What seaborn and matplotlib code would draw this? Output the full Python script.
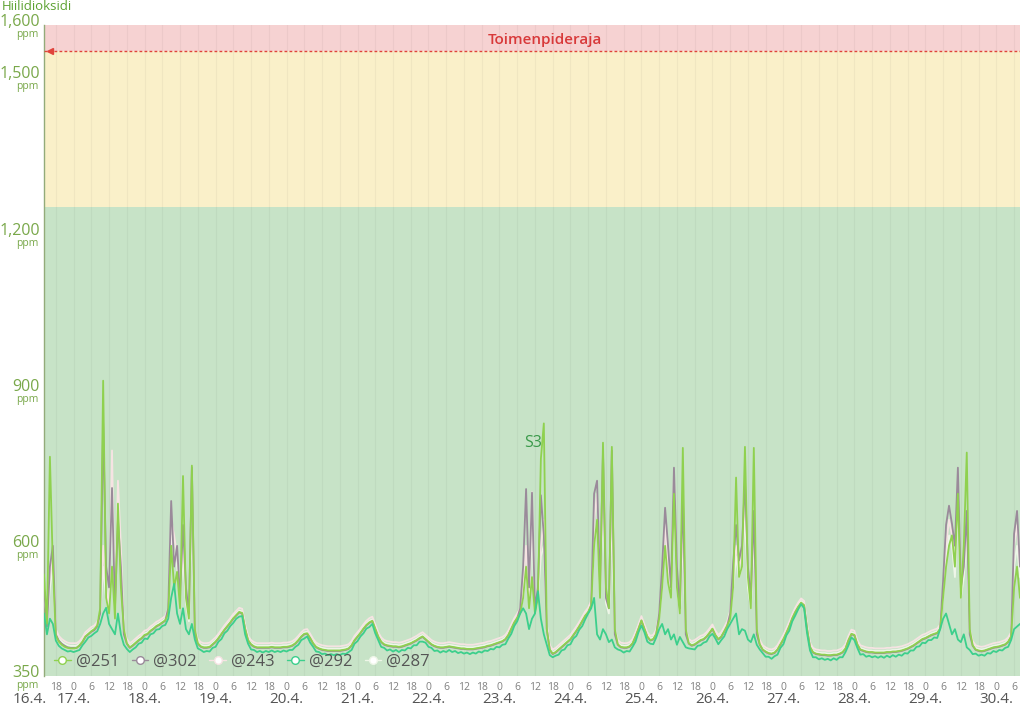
import numpy as np
import pandas as pd
import matplotlib
matplotlib.use("Agg")
import matplotlib.pyplot as plt
import matplotlib.transforms as mtransforms
from matplotlib.lines import Line2D
import seaborn as sns

# ---------------- data (hourly, starting 16.4. 14:00) ----------------
start_hour = 14
sensors = ["@251", "@302", "@243", "@292", "@287"]

s251 = [
    545, 450, 771, 560, 428, 416, 410, 406, 404, 403,
    403, 404, 409, 416, 426, 431, 436, 440, 447, 480, 917, 500, 470, 560, 460, 681, 520, 440, 413, 405, 409, 414, 419, 423,
    429, 431, 437, 441, 446, 449, 453, 457, 470, 600, 520, 550, 480, 734, 500, 460, 754, 440, 413, 407, 405, 405, 406, 411,
    416, 423, 431, 439, 446, 453, 461, 467, 473, 471, 441, 419, 411, 407, 405, 405, 405, 405, 405, 406, 405, 405, 405, 406,
    406, 407, 409, 413, 419, 426, 431, 432, 423, 413, 406, 403, 401, 400, 399, 399, 399, 399, 399, 400, 401, 403, 409, 419,
    426, 433, 441, 448, 453, 456, 441, 426, 416, 411, 409, 408, 407, 407, 406, 407, 409, 411, 413, 416, 419, 423, 426, 421,
    416, 411, 408, 406, 405, 405, 406, 407, 406, 405, 404, 403, 403, 402, 402, 402, 403, 404, 405, 406, 408, 409, 411, 413,
    415, 417, 421, 429, 441, 453, 462, 470, 500, 560, 480, 540, 470, 500, 767, 835, 440, 401, 393, 396, 401, 406, 411, 416,
    421, 429, 437, 446, 456, 466, 473, 486, 600, 650, 500, 798, 520, 480, 790, 440, 411, 406, 405, 405, 407, 413, 426, 441,
    457, 441, 426, 419, 421, 431, 460, 520, 600, 530, 500, 700, 520, 470, 788, 440, 413, 409, 411, 415, 419, 421, 426, 433,
    441, 429, 421, 426, 436, 447, 460, 520, 731, 540, 560, 790, 540, 480, 788, 440, 411, 401, 397, 394, 393, 395, 401, 411,
    421, 433, 446, 461, 473, 483, 491, 486, 441, 406, 396, 393, 392, 391, 391, 390, 390, 391, 391, 393, 396, 403, 419, 431,
    429, 411, 401, 399, 397, 396, 396, 395, 395, 395, 395, 396, 396, 397, 397, 398, 399, 401, 403, 406, 409, 413, 417, 421,
    423, 426, 429, 431, 433, 441, 500, 560, 600, 620, 560, 700, 500, 600, 779, 440, 409, 401, 399, 398, 399, 401, 403, 405,
    406, 407, 409, 411, 416, 426, 520, 560, 500,
]

s302 = [
    520, 445, 560, 600, 430, 418, 412, 408, 405, 404,
    404, 404, 408, 415, 425, 430, 435, 438, 445, 470, 835, 560, 520, 711, 480, 650, 560, 430, 412, 404, 408, 413, 418, 422,
    428, 430, 436, 440, 445, 448, 452, 456, 480, 686, 560, 600, 500, 640, 520, 470, 750, 430, 412, 406, 404, 404, 405, 410,
    415, 422, 430, 438, 445, 452, 460, 466, 472, 470, 440, 418, 410, 406, 404, 404, 404, 404, 404, 405, 404, 404, 404, 405,
    405, 406, 408, 412, 418, 425, 430, 431, 422, 412, 405, 402, 400, 399, 398, 398, 398, 398, 398, 399, 400, 402, 408, 418,
    425, 432, 440, 447, 452, 455, 440, 425, 415, 410, 408, 407, 406, 406, 405, 406, 408, 410, 412, 415, 418, 422, 425, 420,
    415, 410, 407, 405, 404, 404, 405, 406, 405, 404, 403, 402, 402, 401, 401, 401, 402, 403, 404, 405, 407, 408, 410, 412,
    414, 416, 420, 428, 440, 452, 461, 480, 560, 709, 520, 702, 480, 520, 697, 620, 440, 400, 392, 395, 400, 405, 410, 415,
    420, 428, 436, 445, 455, 465, 472, 485, 700, 725, 520, 780, 500, 480, 783, 430, 410, 405, 404, 404, 406, 412, 425, 440,
    456, 440, 425, 418, 420, 430, 470, 560, 673, 600, 520, 750, 560, 480, 700, 430, 412, 408, 410, 414, 418, 420, 425, 432,
    440, 428, 420, 425, 435, 446, 470, 565, 640, 572, 600, 725, 560, 500, 667, 430, 410, 400, 396, 393, 392, 394, 400, 410,
    420, 432, 445, 460, 472, 482, 490, 485, 440, 405, 395, 392, 391, 390, 390, 389, 389, 390, 390, 392, 395, 402, 418, 430,
    428, 410, 400, 398, 396, 395, 395, 394, 394, 394, 394, 395, 395, 396, 396, 397, 398, 400, 402, 405, 408, 412, 416, 420,
    422, 425, 428, 430, 432, 440, 533, 640, 677, 642, 600, 750, 520, 560, 667, 430, 408, 400, 398, 397, 398, 400, 402, 404,
    405, 406, 408, 410, 415, 425, 623, 667, 560,
]

s243 = [
    530, 455, 540, 580, 440, 427, 421, 417, 414, 413,
    413, 413, 417, 424, 434, 439, 444, 447, 454, 470, 600, 520, 480, 783, 470, 725, 600, 440, 421, 413, 417, 422, 427, 431,
    437, 439, 445, 449, 454, 457, 461, 465, 480, 650, 620, 580, 520, 600, 500, 460, 720, 440, 421, 415, 413, 413, 414, 419,
    424, 431, 439, 447, 454, 461, 469, 475, 481, 479, 449, 427, 419, 415, 413, 413, 413, 413, 413, 414, 413, 413, 413, 414,
    414, 415, 417, 421, 427, 434, 439, 440, 431, 421, 414, 411, 409, 408, 407, 407, 407, 407, 407, 408, 409, 411, 417, 427,
    434, 441, 449, 456, 461, 464, 449, 434, 424, 419, 417, 416, 415, 415, 414, 415, 417, 419, 421, 424, 427, 431, 434, 429,
    424, 419, 416, 414, 413, 413, 414, 415, 414, 413, 412, 411, 411, 410, 410, 410, 411, 412, 413, 414, 416, 417, 419, 421,
    423, 425, 429, 437, 449, 461, 470, 480, 520, 600, 500, 703, 480, 520, 600, 650, 450, 409, 401, 404, 409, 414, 419, 424,
    429, 437, 445, 454, 464, 474, 481, 494, 650, 700, 520, 760, 500, 480, 700, 440, 419, 414, 413, 413, 415, 421, 434, 449,
    465, 449, 434, 427, 429, 439, 470, 540, 640, 560, 520, 740, 540, 480, 650, 440, 421, 417, 419, 423, 427, 429, 434, 441,
    449, 437, 429, 434, 444, 455, 475, 540, 600, 560, 580, 700, 540, 490, 650, 440, 419, 409, 405, 402, 401, 403, 409, 419,
    429, 441, 454, 469, 481, 491, 499, 494, 449, 414, 404, 401, 400, 399, 399, 398, 398, 399, 399, 401, 404, 411, 427, 439,
    437, 419, 409, 407, 405, 404, 404, 403, 403, 403, 403, 404, 404, 405, 405, 406, 407, 409, 411, 414, 417, 421, 425, 429,
    431, 434, 437, 439, 441, 449, 520, 600, 650, 620, 560, 720, 520, 560, 650, 440, 417, 409, 407, 406, 407, 409, 411, 413,
    414, 415, 417, 419, 424, 434, 600, 640, 560,
]

s292 = [
    470, 430, 460, 450, 418, 408, 403, 400, 397, 398,
    396, 398, 400, 409, 416, 424, 427, 432, 436, 450, 470, 481, 450, 440, 430, 470, 430, 410, 402, 396, 401, 405, 412, 414,
    422, 421, 430, 432, 439, 440, 446, 448, 460, 500, 527, 470, 450, 480, 440, 430, 450, 420, 403, 400, 396, 398, 397, 404,
    406, 416, 421, 432, 437, 446, 452, 460, 464, 465, 430, 412, 401, 400, 396, 398, 395, 398, 396, 399, 396, 398, 396, 399,
    397, 400, 400, 406, 410, 419, 422, 426, 414, 406, 397, 396, 392, 393, 390, 392, 390, 392, 390, 393, 392, 396, 400, 412,
    417, 426, 432, 441, 444, 450, 432, 419, 406, 404, 399, 401, 397, 400, 396, 400, 399, 404, 403, 409, 409, 416, 416, 414,
    406, 404, 398, 399, 395, 398, 396, 400, 396, 398, 394, 396, 393, 395, 392, 395, 393, 397, 395, 399, 398, 402, 401, 406,
    405, 410, 411, 422, 431, 446, 455, 470, 480, 470, 440, 460, 470, 513, 460, 430, 410, 390, 386, 389, 391, 399, 401, 409,
    411, 422, 427, 439, 446, 459, 470, 480, 500, 430, 420, 440, 430, 415, 420, 405, 401, 399, 395, 398, 397, 406, 416, 434,
    447, 434, 416, 412, 411, 424, 440, 450, 430, 440, 420, 430, 410, 425, 415, 405, 403, 402, 401, 408, 409, 414, 416, 426,
    431, 422, 411, 419, 426, 440, 450, 460, 470, 430, 440, 437, 420, 415, 430, 410, 401, 394, 387, 387, 383, 388, 391, 404,
    411, 428, 437, 455, 466, 478, 488, 480, 432, 399, 386, 386, 382, 384, 381, 383, 380, 384, 381, 386, 386, 396, 409, 424,
    419, 404, 391, 392, 387, 389, 386, 388, 385, 388, 385, 389, 386, 390, 387, 391, 389, 394, 393, 399, 399, 406, 407, 414,
    413, 419, 419, 424, 423, 440, 460, 470, 450, 430, 440, 420, 415, 430, 405, 400, 392, 393, 389, 391, 389, 394, 393, 398,
    396, 400, 399, 404, 406, 419, 440, 445, 450,
]

s287 = [
    525, 450, 520, 560, 435, 422, 416, 412, 409, 408,
    408, 408, 412, 419, 429, 434, 439, 442, 449, 465, 560, 500, 470, 700, 460, 690, 560, 435, 416, 408, 412, 417, 422, 426,
    432, 434, 440, 444, 449, 452, 456, 460, 475, 620, 580, 560, 500, 580, 490, 455, 680, 435, 416, 410, 408, 408, 409, 414,
    419, 426, 434, 442, 449, 456, 464, 470, 476, 474, 444, 422, 414, 410, 408, 408, 408, 408, 408, 409, 408, 408, 408, 409,
    409, 410, 412, 416, 422, 429, 434, 435, 426, 416, 409, 406, 404, 403, 402, 402, 402, 402, 402, 403, 404, 406, 412, 422,
    429, 436, 444, 451, 456, 459, 444, 429, 419, 414, 412, 411, 410, 410, 409, 410, 412, 414, 416, 419, 422, 426, 429, 424,
    419, 414, 411, 409, 408, 408, 409, 410, 409, 408, 407, 406, 406, 405, 405, 405, 406, 407, 408, 409, 411, 412, 414, 416,
    418, 420, 424, 432, 444, 456, 465, 475, 500, 560, 490, 640, 470, 500, 580, 600, 445, 404, 396, 399, 404, 409, 414, 419,
    424, 432, 440, 449, 459, 469, 476, 489, 600, 650, 510, 700, 490, 470, 660, 435, 414, 409, 408, 408, 410, 416, 429, 444,
    460, 444, 429, 422, 424, 434, 465, 520, 600, 540, 500, 680, 520, 470, 620, 435, 416, 412, 414, 418, 422, 424, 429, 436,
    444, 432, 424, 429, 439, 450, 470, 520, 580, 540, 560, 660, 520, 480, 620, 435, 414, 404, 400, 397, 396, 398, 404, 414,
    424, 436, 449, 464, 476, 486, 494, 489, 444, 409, 399, 396, 395, 394, 394, 393, 393, 394, 394, 396, 399, 406, 422, 434,
    432, 414, 404, 402, 400, 399, 399, 398, 398, 398, 398, 399, 399, 400, 400, 401, 402, 404, 406, 409, 412, 416, 420, 424,
    426, 429, 432, 434, 436, 444, 500, 580, 620, 600, 540, 680, 500, 540, 620, 435, 412, 404, 402, 401, 402, 404, 406, 408,
    409, 410, 412, 414, 419, 429, 560, 600, 540,
]

series = {"@251": s251, "@302": s302, "@243": s243, "@292": s292, "@287": s287}
for k, v in series.items():
    assert len(v) == 331, (k, len(v))

day_labels = ["17.4.", "18.4.", "19.4.", "20.4.", "21.4.", "22.4.", "23.4.",
              "24.4.", "25.4.", "26.4.", "27.4.", "28.4.", "29.4.", "30.4."]
y_ticks = [350, 600, 900, 1200, 1500, 1600]
y_tick_labels = ["350", "600", "900", "1,200", "1,500", "1,600"]
limit_value = 1550
green_max = 1250

colors = {"@251": "#8fd14f", "@302": "#9a8a9a", "@243": "#f6e3e3",
          "@292": "#3ccf8c", "@287": "#eef6e8"}

hours = np.arange(331)
df = pd.concat([pd.DataFrame({"t": hours, "ppm": v, "sensor": k}) for k, v in series.items()],
               ignore_index=True)

# ---------------- figure ----------------
sns.set_theme(style="white")
plt.rcParams["font.family"] = ["Open Sans", "DejaVu Sans"]

fig = plt.figure(figsize=(10.24, 7.09), dpi=100)
ax = fig.add_axes([44 / 1024, 1 - 676 / 709, 976 / 1024, 651 / 709])
ax.set_xlim(0, 330)
ax.set_ylim(350, 1600)

ax.axhspan(350, green_max, color="#c7e3c7", zorder=0, lw=0)
ax.axhspan(green_max, limit_value, color="#faf0c9", zorder=0, lw=0)
ax.axhspan(limit_value, 1600, color="#f6d2d2", zorder=0, lw=0)

for h in range(4, 331, 6):
    ax.axvline(h, color="#000000", alpha=0.04, lw=0.9, zorder=0.5)

draw_order = ["@287", "@243", "@302", "@251", "@292"]
for name in draw_order:
    sns.lineplot(data=df[df.sensor == name], x="t", y="ppm", color=colors[name],
                 lw=1.3, ax=ax, estimator=None, sort=False, legend=False, zorder=3)

# limit line
ax.axhline(limit_value, color="#e0443c", ls=(0, (2, 1.6)), lw=1.0, zorder=4)
ax.plot([0.006], [limit_value], marker="<", color="#e0443c", ms=5,
        transform=mtransforms.blended_transform_factory(ax.transAxes, ax.transData),
        clip_on=False, zorder=5)
ax.text(0.513, 1571, "Toimenpideraja", color="#d8393a", fontsize=11, fontweight="semibold",
        ha="center", va="center",
        transform=mtransforms.blended_transform_factory(ax.transAxes, ax.transData))
ax.text(165.3, 797, "S3", color="#3a9a4a", fontsize=11.5, ha="center", va="center", zorder=6)

# axes styling
for sp in ["top", "right", "bottom"]:
    ax.spines[sp].set_visible(False)
ax.spines["left"].set_color("#93ab7a")
ax.spines["left"].set_linewidth(1.0)
ax.set_xlabel("")
ax.set_ylabel("")
ax.set_yticks(y_ticks)
ax.set_yticklabels([])
ax.tick_params(axis="y", length=3, width=0.8, color="#93ab7a", direction="out")

ylab_color = "#79a84a"
for v, lab in zip(y_ticks, y_tick_labels):
    ax.annotate(lab, xy=(0, v), xycoords=("axes fraction", "data"), xytext=(-3, 2),
                textcoords="offset points", ha="right", va="center", fontsize=11.5,
                color=ylab_color, annotation_clip=False)
    ax.annotate("ppm", xy=(0, v), xycoords=("axes fraction", "data"), xytext=(-4, -7),
                textcoords="offset points", ha="right", va="center", fontsize=7.5,
                color=ylab_color, annotation_clip=False)

# x ticks: hours and days
hour_ticks = list(range(4, 331, 6))
ax.set_xticks(hour_ticks)
ax.set_xticklabels([])
ax.tick_params(axis="x", length=0)
xtr = mtransforms.blended_transform_factory(ax.transData, ax.transAxes)
for h in hour_ticks:
    ax.text(h, -0.017, str((start_hour + h) % 24), transform=xtr, ha="center", va="center",
            fontsize=7.5, color="#808080")
for i, lab in enumerate(day_labels):
    ax.text(10 + 24 * i, -0.0355, lab, transform=xtr, ha="center", va="center",
            fontsize=11, color="#555555")
ax.text(-0.0143, -0.0355, "16.4.", transform=ax.transAxes, ha="center", va="center",
        fontsize=11, color="#555555")

# legend
handles = []
for name in sensors:
    handles.append(Line2D([0], [0], color=colors[name], lw=1.0, marker="o", ms=5.5,
                          markerfacecolor="white", markeredgecolor=colors[name]))
leg = ax.legend(handles, sensors, loc="lower left", bbox_to_anchor=(0.0, -0.006), ncol=5,
                frameon=False, handlelength=1.0, handletextpad=0.3, columnspacing=0.75,
                fontsize=12, borderaxespad=0.2)
for t in leg.get_texts():
    t.set_color("#555555")

fig.text(2 / 1024, 1 - 7 / 709, "Hiilidioksidi", color="#5da232", fontsize=9.5,
         ha="left", va="center")

fig.savefig("out.png", dpi=100)
